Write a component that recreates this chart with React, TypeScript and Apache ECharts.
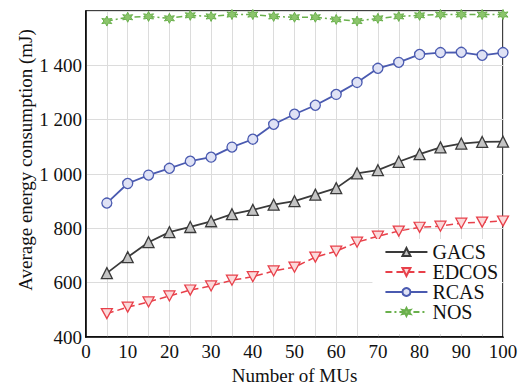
import React, { useEffect, useRef } from "react";
import * as echarts from "echarts";

const xValues = [5, 10, 15, 20, 25, 30, 35, 40, 45, 50, 55, 60, 65, 70, 75, 80, 85, 90, 95, 100];
const gacs = [635, 694, 749, 786, 805, 826, 852, 868, 887, 900, 924, 948, 1002, 1014, 1045, 1073, 1098, 1112, 1118, 1119];
const edcos = [486, 510, 529, 551, 573, 588, 609, 622, 643, 657, 694, 716, 749, 771, 790, 804, 808, 819, 823, 827];
const rcas = [893, 965, 996, 1021, 1047, 1062, 1099, 1128, 1183, 1220, 1253, 1293, 1337, 1389, 1411, 1440, 1447, 1448, 1437, 1447];
const nos = [1563, 1577, 1580, 1573, 1584, 1580, 1587, 1587, 1580, 1577, 1577, 1569, 1563, 1573, 1580, 1584, 1587, 1587, 1587, 1587];
const seriesNames = ["GACS", "EDCOS", "RCAS", "NOS"];
const xTitle = "Number of MUs";
const yTitle = "Average energy consumption (mJ)";

const FONT = "Liberation Serif";

const pair = (ys: number[]) => xValues.map((x, i) => [x, ys[i]]);

export default function App() {
  const ref = useRef<HTMLDivElement>(null);
  useEffect(() => {
    const chart = echarts.init(ref.current!, null, { renderer: "svg" });
    chart.setOption({
      animation: false,
      backgroundColor: "#fff",
      textStyle: { fontFamily: FONT },
      grid: {
        left: 86,
        right: 18,
        top: 11,
        bottom: 48,
        outerBoundsMode: "none",
        containLabel: false,
        show: true,
        borderColor: "#000",
        borderWidth: 1.5,
        backgroundColor: "transparent",
      },
      graphic: [
        {
          type: "text",
          x: 25,
          y: 160,
          rotation: Math.PI / 2,
          style: { text: yTitle, fontFamily: FONT, fontSize: 19, fill: "#111", align: "center", verticalAlign: "middle" },
        },
      ],
      xAxis: {
        type: "value",
        min: 0,
        max: 100,
        interval: 5,
        name: xTitle,
        nameLocation: "middle",
        nameGap: 29,
        nameTextStyle: { fontFamily: FONT, fontSize: 19, color: "#111" },
        axisLine: { show: true, lineStyle: { color: "#000", width: 1.5 } },
        axisTick: { show: false },
        axisLabel: {
          fontFamily: FONT,
          fontSize: 19,
          color: "#111",
          margin: 5,
          formatter: (v: number) => (v % 10 === 0 ? String(v) : ""),
        },
        splitLine: { show: true, lineStyle: { color: "#dcdcdc", width: 1 } },
      },
      yAxis: {
        type: "value",
        min: 400,
        max: 1600,
        interval: 200,
        axisLine: { show: true, lineStyle: { color: "#000", width: 1.5 } },
        axisTick: { show: false },
        axisLabel: {
          fontFamily: FONT,
          fontSize: 19,
          color: "#111",
          margin: 4,
          showMaxLabel: false,
          formatter: (v: number) => (v >= 1000 ? `${Math.floor(v / 1000)} ${String(v % 1000).padStart(3, "0")}` : String(v)),
        },
        splitLine: { show: true, lineStyle: { color: "#dcdcdc", width: 1 } },
      },
      legend: {
        orient: "vertical",
        right: 19,
        top: 239,
        backgroundColor: "#fff",
        padding: [3, 4, 12, 12],
        itemGap: 0,
        itemWidth: 42,
        itemHeight: 10,
        textStyle: { fontFamily: FONT, fontSize: 20, color: "#111" },
        data: seriesNames,
      },
      series: [
        {
          name: seriesNames[0],
          type: "line",
          data: pair(gacs),
          symbol: "triangle",
          symbolSize: 11,
          color: "#3a3a3a",
          lineStyle: { color: "#3a3a3a", width: 1.8 },
          itemStyle: { color: "#c4c4c4", borderColor: "#3a3a3a", borderWidth: 1.3 },
        },
        {
          name: seriesNames[1],
          type: "line",
          data: pair(edcos),
          symbol: "path://M0,0 L10,0 L5,9 Z",
          symbolSize: [11, 10],
          color: "#e8404a",
          lineStyle: { color: "#e8404a", width: 1.5, type: [7, 4] },
          itemStyle: { color: "#fbd9da", borderColor: "#e8404a", borderWidth: 1.3 },
        },
        {
          name: seriesNames[2],
          type: "line",
          data: pair(rcas),
          symbol: "circle",
          symbolSize: 10,
          color: "#4a5ab0",
          lineStyle: { color: "#4a5ab0", width: 1.8 },
          itemStyle: { color: "#dfe2f5", borderColor: "#4a5ab0", borderWidth: 1.3 },
        },
        {
          name: seriesNames[3],
          type: "line",
          data: pair(nos),
          symbol: "path://M5,0 L6.3,3 L9.5,2.4 L7.6,5 L9.5,7.6 L6.3,7 L5,10 L3.7,7 L0.5,7.6 L2.4,5 L0.5,2.4 L3.7,3 Z",
          symbolSize: 10,
          color: "#6ab04c",
          lineStyle: { color: "#6ab04c", width: 1.5, type: [6, 3, 2, 3] },
          itemStyle: { color: "#8cc56c", borderColor: "#6ab04c", borderWidth: 1 },
        },
      ],
    });
    return () => chart.dispose();
  }, []);
  return <div ref={ref} style={{ position: "fixed", left: 0, top: 0, width: 521, height: 385 }} />;
}
